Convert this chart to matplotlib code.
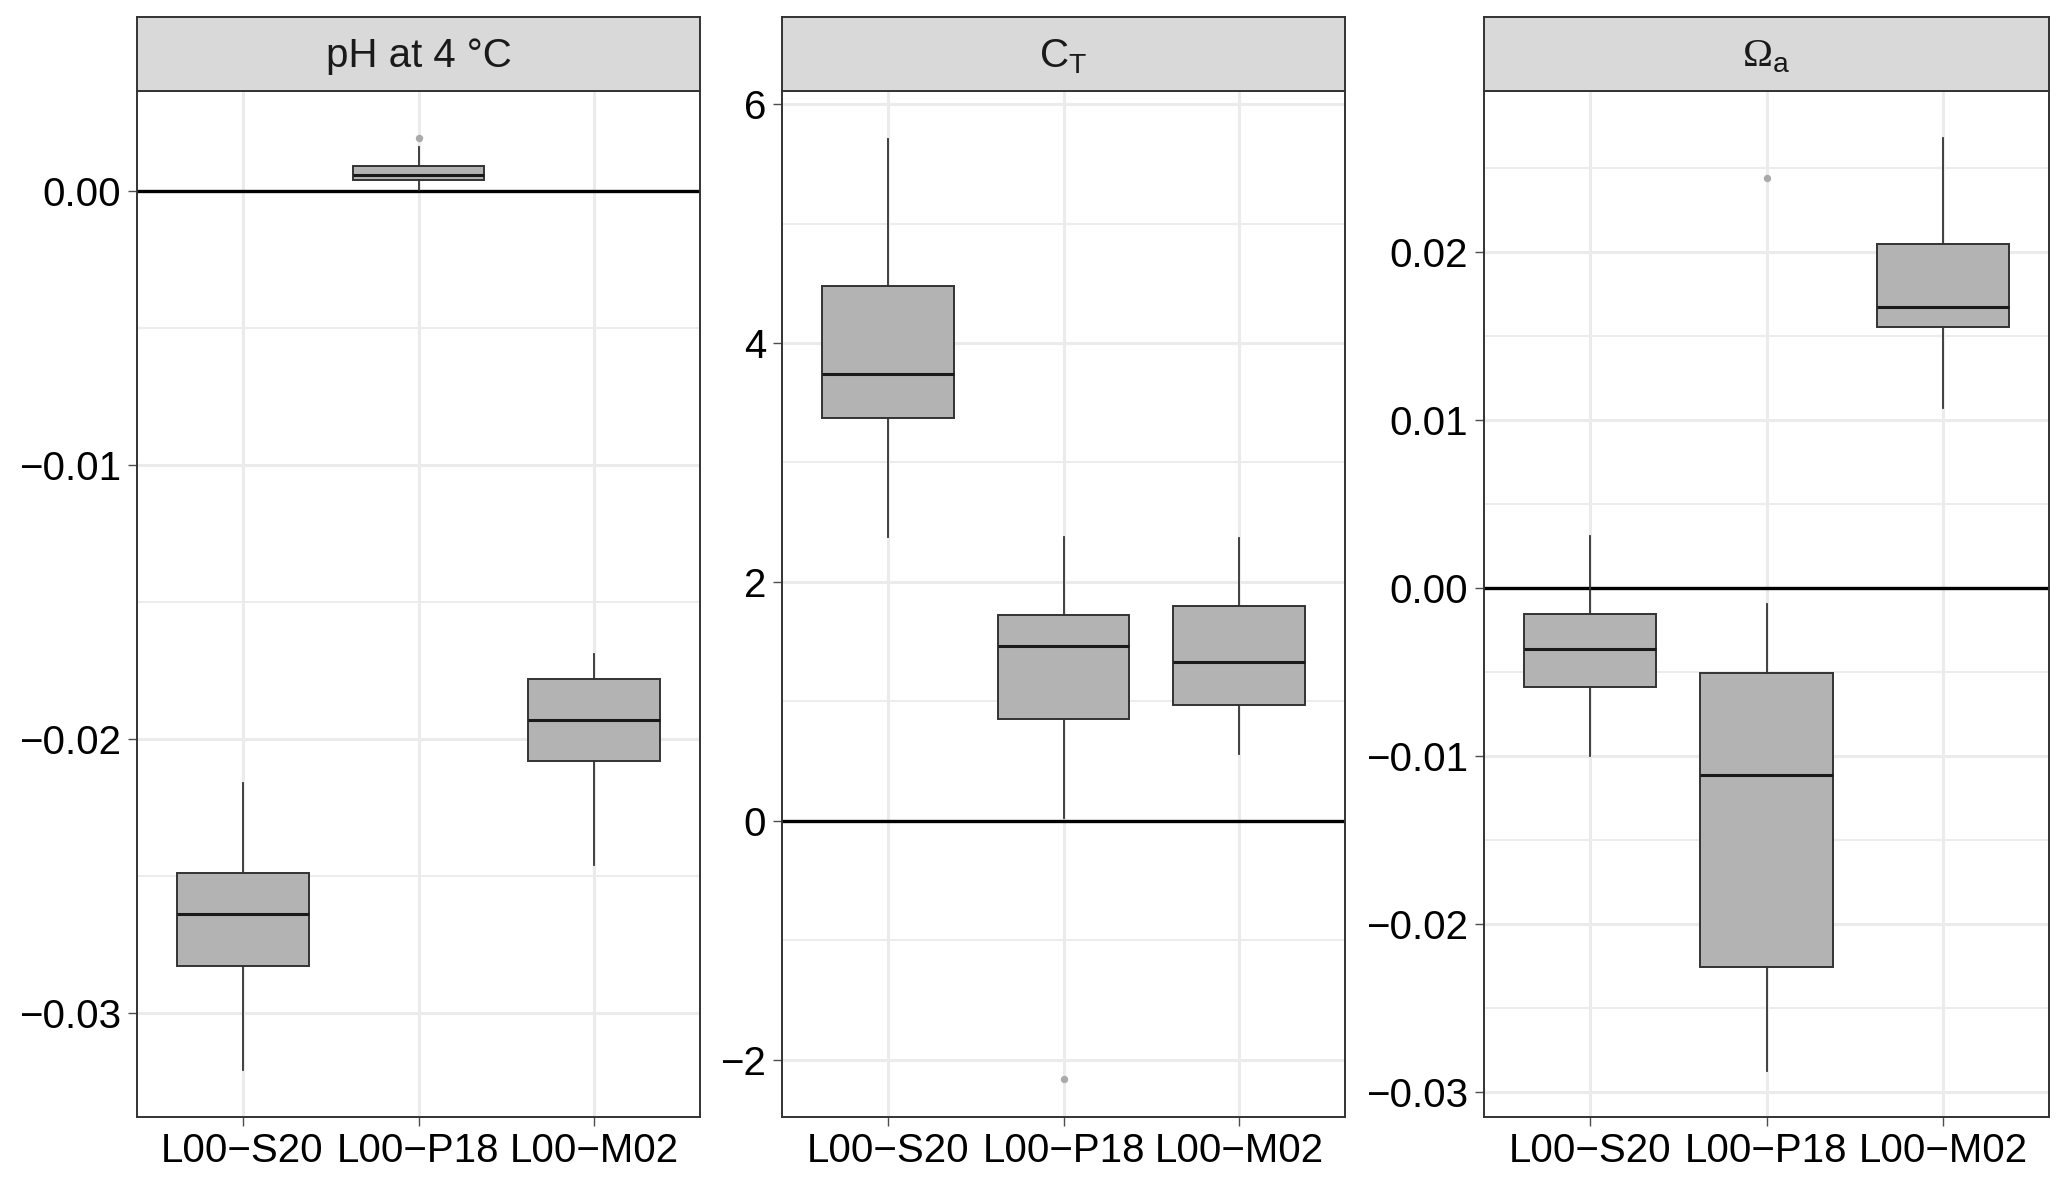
import matplotlib

matplotlib.use("Agg")
import matplotlib.pyplot as plt
from matplotlib.ticker import FixedLocator, FuncFormatter

plt.rcParams["font.family"] = ["Liberation Sans", "DejaVu Sans"]
plt.rcParams["mathtext.fontset"] = "custom"
plt.rcParams["mathtext.rm"] = "Liberation Serif"
plt.rcParams["mathtext.sf"] = "Liberation Sans"
plt.rcParams["mathtext.it"] = "Liberation Sans:italic"

categories = ["L00\u2212S20", "L00\u2212P18", "L00\u2212M02"]
titles = ["pH at 4 \u00b0C", r"C$_\mathsf{T}$", r"$\Omega_\mathsf{a}$"]

# pH at 4 degC
ph_whislo = [-0.0321, 0.00004, -0.0246]
ph_q1 = [-0.0283, 0.00040, -0.0208]
ph_med = [-0.0264, 0.00058, -0.0193]
ph_q3 = [-0.0249, 0.00091, -0.0178]
ph_whishi = [-0.0216, 0.00161, -0.0169]
ph_fliers = [[], [0.00193], []]

# C_T
ct_whislo = [2.38, 0.02, 0.56]
ct_q1 = [3.37, 0.85, 0.97]
ct_med = [3.74, 1.46, 1.33]
ct_q3 = [4.48, 1.72, 1.80]
ct_whishi = [5.71, 2.38, 2.37]
ct_fliers = [[], [-2.16], []]

# Omega_a
om_whislo = [-0.00998, -0.02879, 0.01074]
om_q1 = [-0.00590, -0.02259, 0.01554]
om_med = [-0.00362, -0.01114, 0.01675]
om_q3 = [-0.00156, -0.00508, 0.02046]
om_whishi = [0.00309, -0.00096, 0.02681]
om_fliers = [[], [0.02443], []]

ph_major = [-0.03, -0.02, -0.01, 0.0]
ph_minor = [-0.025, -0.015, -0.005]
ct_major = [-2, 0, 2, 4, 6]
ct_minor = [-1, 1, 3, 5]
om_major = [-0.03, -0.02, -0.01, 0.0, 0.01, 0.02]
om_minor = [-0.025, -0.015, -0.005, 0.005, 0.015, 0.025]

panels = [
    (ph_whislo, ph_q1, ph_med, ph_q3, ph_whishi, ph_fliers, ph_major, ph_minor, (-0.0338, 0.00365), 2),
    (ct_whislo, ct_q1, ct_med, ct_q3, ct_whishi, ct_fliers, ct_major, ct_minor, (-2.48, 6.11), 0),
    (om_whislo, om_q1, om_med, om_q3, om_whishi, om_fliers, om_major, om_minor, (-0.0315, 0.0296), 2),
]

W, H = 2067, 1182
lefts = [137, 782, 1484]
rights = [700, 1345, 2049]
top, bottom, strip_top = 91, 1117, 17

dark = "#333333"
grid = "#EBEBEB"


def fmt(decimals):
    def f(x, pos):
        s = f"{x:.{decimals}f}"
        if float(s) == 0:
            s = s.lstrip("-")
        return s.replace("-", "\u2212")
    return FuncFormatter(f)


fig = plt.figure(figsize=(W / 100, H / 100), dpi=100)

for i, (wlo, q1, med, q3, whi, fl, major, minor, ylim, dec) in enumerate(panels):
    x0 = lefts[i] / W
    w = (rights[i] - lefts[i]) / W
    ax = fig.add_axes([x0, 1 - bottom / H, w, (bottom - top) / H])
    stats = [
        {"whislo": wlo[k], "q1": q1[k], "med": med[k], "q3": q3[k], "whishi": whi[k], "fliers": fl[k]}
        for k in range(len(categories))
    ]
    ax.bxp(
        stats,
        positions=[1, 2, 3],
        widths=0.75,
        patch_artist=True,
        showcaps=False,
        boxprops={"facecolor": "#B3B3B3", "edgecolor": dark, "linewidth": 1.4},
        medianprops={"color": "#1A1A1A", "linewidth": 2.2},
        whiskerprops={"color": dark, "linewidth": 1.3},
        flierprops={"marker": "o", "markersize": 4.3, "markerfacecolor": "#AAAAAA",
                    "markeredgecolor": "#AAAAAA"},
        zorder=3,
    )
    ax.axhline(0, color="black", linewidth=2.4, zorder=2.5)
    ax.set_xlim(0.4, 3.6)
    ax.set_ylim(*ylim)
    ax.set_xticks([1, 2, 3])
    ax.set_xticklabels(categories)
    ax.yaxis.set_major_locator(FixedLocator(major))
    ax.yaxis.set_minor_locator(FixedLocator(minor))
    ax.yaxis.set_major_formatter(fmt(dec))
    ax.set_axisbelow(True)
    ax.grid(which="major", color=grid, linewidth=2.2)
    ax.grid(which="minor", axis="y", color=grid, linewidth=1.3)
    ax.tick_params(which="major", direction="out", length=6.5, width=1.0, color="#4D4D4D",
                   labelsize=29, labelcolor="black")
    ax.tick_params(axis="x", pad=4)
    ax.tick_params(axis="y", pad=5)
    ax.tick_params(which="minor", length=0)
    for sp in ax.spines.values():
        sp.set_color(dark)
        sp.set_linewidth(1.4)

    sax = fig.add_axes([x0, 1 - top / H, w, (top - strip_top) / H])
    sax.set_facecolor("#D9D9D9")
    sax.set_xticks([])
    sax.set_yticks([])
    for sp in sax.spines.values():
        sp.set_color(dark)
        sp.set_linewidth(1.4)
    sax.text(0.5, 0.47, titles[i], transform=sax.transAxes, ha="center", va="center",
             fontsize=29, color="#1A1A1A")

fig.savefig("out.png", dpi=100)
